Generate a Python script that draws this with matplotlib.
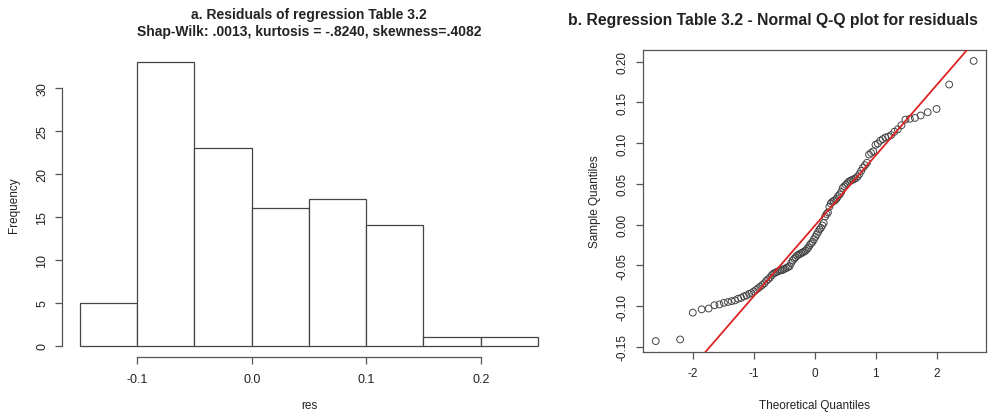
import numpy as np
import matplotlib
matplotlib.use('Agg')
import matplotlib.pyplot as plt
from statistics import NormalDist

plt.rcParams['font.family'] = ['Liberation Sans', 'DejaVu Sans']

res = [
    -0.143, -0.141, -0.108, -0.104, -0.103, -0.099, -0.098, -0.096, -0.095, -0.094,
    -0.093, -0.091, -0.090, -0.088, -0.087, -0.085, -0.084, -0.082, -0.080, -0.078,
    -0.076, -0.074, -0.072, -0.069, -0.067, -0.065, -0.062, -0.060, -0.059, -0.058,
    -0.057, -0.056, -0.056, -0.055, -0.054, -0.053, -0.052, -0.051, -0.047, -0.044,
    -0.042, -0.040, -0.038, -0.037, -0.036, -0.035, -0.034, -0.033, -0.032, -0.030,
    -0.028, -0.025, -0.023, -0.021, -0.018, -0.015, -0.012, -0.009, -0.006, -0.004,
    -0.001, 0.002, 0.010, 0.013, 0.015, 0.022, 0.026, 0.028, 0.029, 0.030,
    0.032, 0.035, 0.037, 0.040, 0.045, 0.047, 0.049, 0.051, 0.053, 0.054,
    0.055, 0.056, 0.057, 0.059, 0.062, 0.066, 0.070, 0.073, 0.076, 0.086,
    0.088, 0.090, 0.098, 0.0995, 0.103, 0.105, 0.107, 0.108, 0.110, 0.114,
    0.117, 0.122, 0.129, 0.130, 0.131, 0.134, 0.138, 0.142, 0.172, 0.201,
]
bins = [-0.15, -0.10, -0.05, 0.0, 0.05, 0.10, 0.15, 0.20, 0.25]
hist_xticks = [-0.1, 0.0, 0.1, 0.2]
hist_yticks = [0, 5, 10, 15, 20, 25, 30]
qq_xticks = [-2, -1, 0, 1, 2]
qq_yticks = [-0.15, -0.10, -0.05, 0.00, 0.05, 0.10, 0.15, 0.20]

txt = '#222222'
lin = '#555555'

fig = plt.figure(figsize=(9.9, 4.14), dpi=100)

# ---- a. histograma ----
ax1 = fig.add_axes([0.0623, 0.1353, 0.4996, 0.7403])
counts, edges, _ = ax1.hist(res, bins=bins, facecolor='white', edgecolor='#444444', linewidth=0.9)
ax1.set_xlim(-0.166, 0.266)
ax1.set_ylim(-0.04 * counts.max(), 1.04 * counts.max())
for s in ['top', 'right']:
    ax1.spines[s].set_visible(False)
ax1.spines['left'].set_bounds(0, 30)
ax1.spines['bottom'].set_bounds(-0.1, 0.2)
for s in ['left', 'bottom']:
    ax1.spines[s].set_color(lin)
    ax1.spines[s].set_linewidth(0.9)
ax1.set_xticks(hist_xticks)
ax1.set_xticklabels(['-0.1', '0.0', '0.1', '0.2'])
ax1.set_yticks(hist_yticks)
ax1.tick_params(colors=lin, labelcolor=txt, labelsize=9, length=4.7, width=0.9, pad=5)
ax1.tick_params(axis='x', pad=7)
for lab in ax1.get_yticklabels():
    lab.set_rotation(90)
    lab.set_va('center')
ax1.set_xlabel('res', fontsize=8.5, color=txt, labelpad=10)
ax1.set_ylabel('Frequency', fontsize=8.5, color=txt, labelpad=12)
fig.text(309 / 990, 1 - 15 / 414, 'a. Residuals of regression Table 3.2', ha='center', va='center',
         fontsize=10, fontweight='bold', color=txt)
fig.text(309 / 990, 1 - 31.7 / 414, 'Shap-Wilk: .0013, kurtosis = -.8240, skewness=.4082', ha='center',
         va='center', fontsize=10, fontweight='bold', color=txt)

# ---- b. Q-Q plot ----
n = len(res)
sample = np.sort(np.array(res))
theo = np.array([NormalDist().inv_cdf((i - 0.5) / n) for i in range(1, n + 1)])

ax2 = fig.add_axes([0.6495, 0.1466, 0.3468, 0.7309])
ax2.scatter(theo, sample, s=24, facecolors='none', edgecolors='#444444', linewidths=0.7, zorder=3)

# linea por los cuartiles (como qqline)
q1, q3 = np.quantile(sample, [0.25, 0.75])
z1, z3 = NormalDist().inv_cdf(0.25), NormalDist().inv_cdf(0.75)
slope = (q3 - q1) / (z3 - z1)
inter = q1 - slope * z1
xr = theo.max() - theo.min()
yr = sample.max() - sample.min()
xlim = (theo.min() - 0.04 * xr, theo.max() + 0.04 * xr)
ylim = (sample.min() - 0.04 * yr, sample.max() + 0.04 * yr)
xx = np.array(xlim)
ax2.plot(xx, inter + slope * xx, color='#dd2222', linewidth=1.3, zorder=4)
ax2.set_xlim(xlim)
ax2.set_ylim(ylim)
for s in ax2.spines.values():
    s.set_color(lin)
    s.set_linewidth(0.9)
ax2.set_xticks(qq_xticks)
ax2.set_xticklabels([str(v) for v in qq_xticks])
ax2.set_yticks(qq_yticks)
ax2.set_yticklabels([f'{v:.2f}' for v in qq_yticks])
ax2.tick_params(colors=lin, labelcolor=txt, labelsize=8.5, length=4.7, width=0.9, pad=6)
for lab in ax2.get_yticklabels():
    lab.set_rotation(90)
    lab.set_va('center')
ax2.set_xlabel('Theoretical Quantiles', fontsize=8.5, color=txt, labelpad=14)
ax2.set_ylabel('Sample Quantiles', fontsize=8.5, color=txt, labelpad=11)
fig.text(568 / 990, 1 - 21 / 414, 'b. Regression Table 3.2 - Normal Q-Q plot for residuals', ha='left',
         va='center', fontsize=11.3, fontweight='bold', color=txt)

fig.savefig('out.png', dpi=100, facecolor='white')
